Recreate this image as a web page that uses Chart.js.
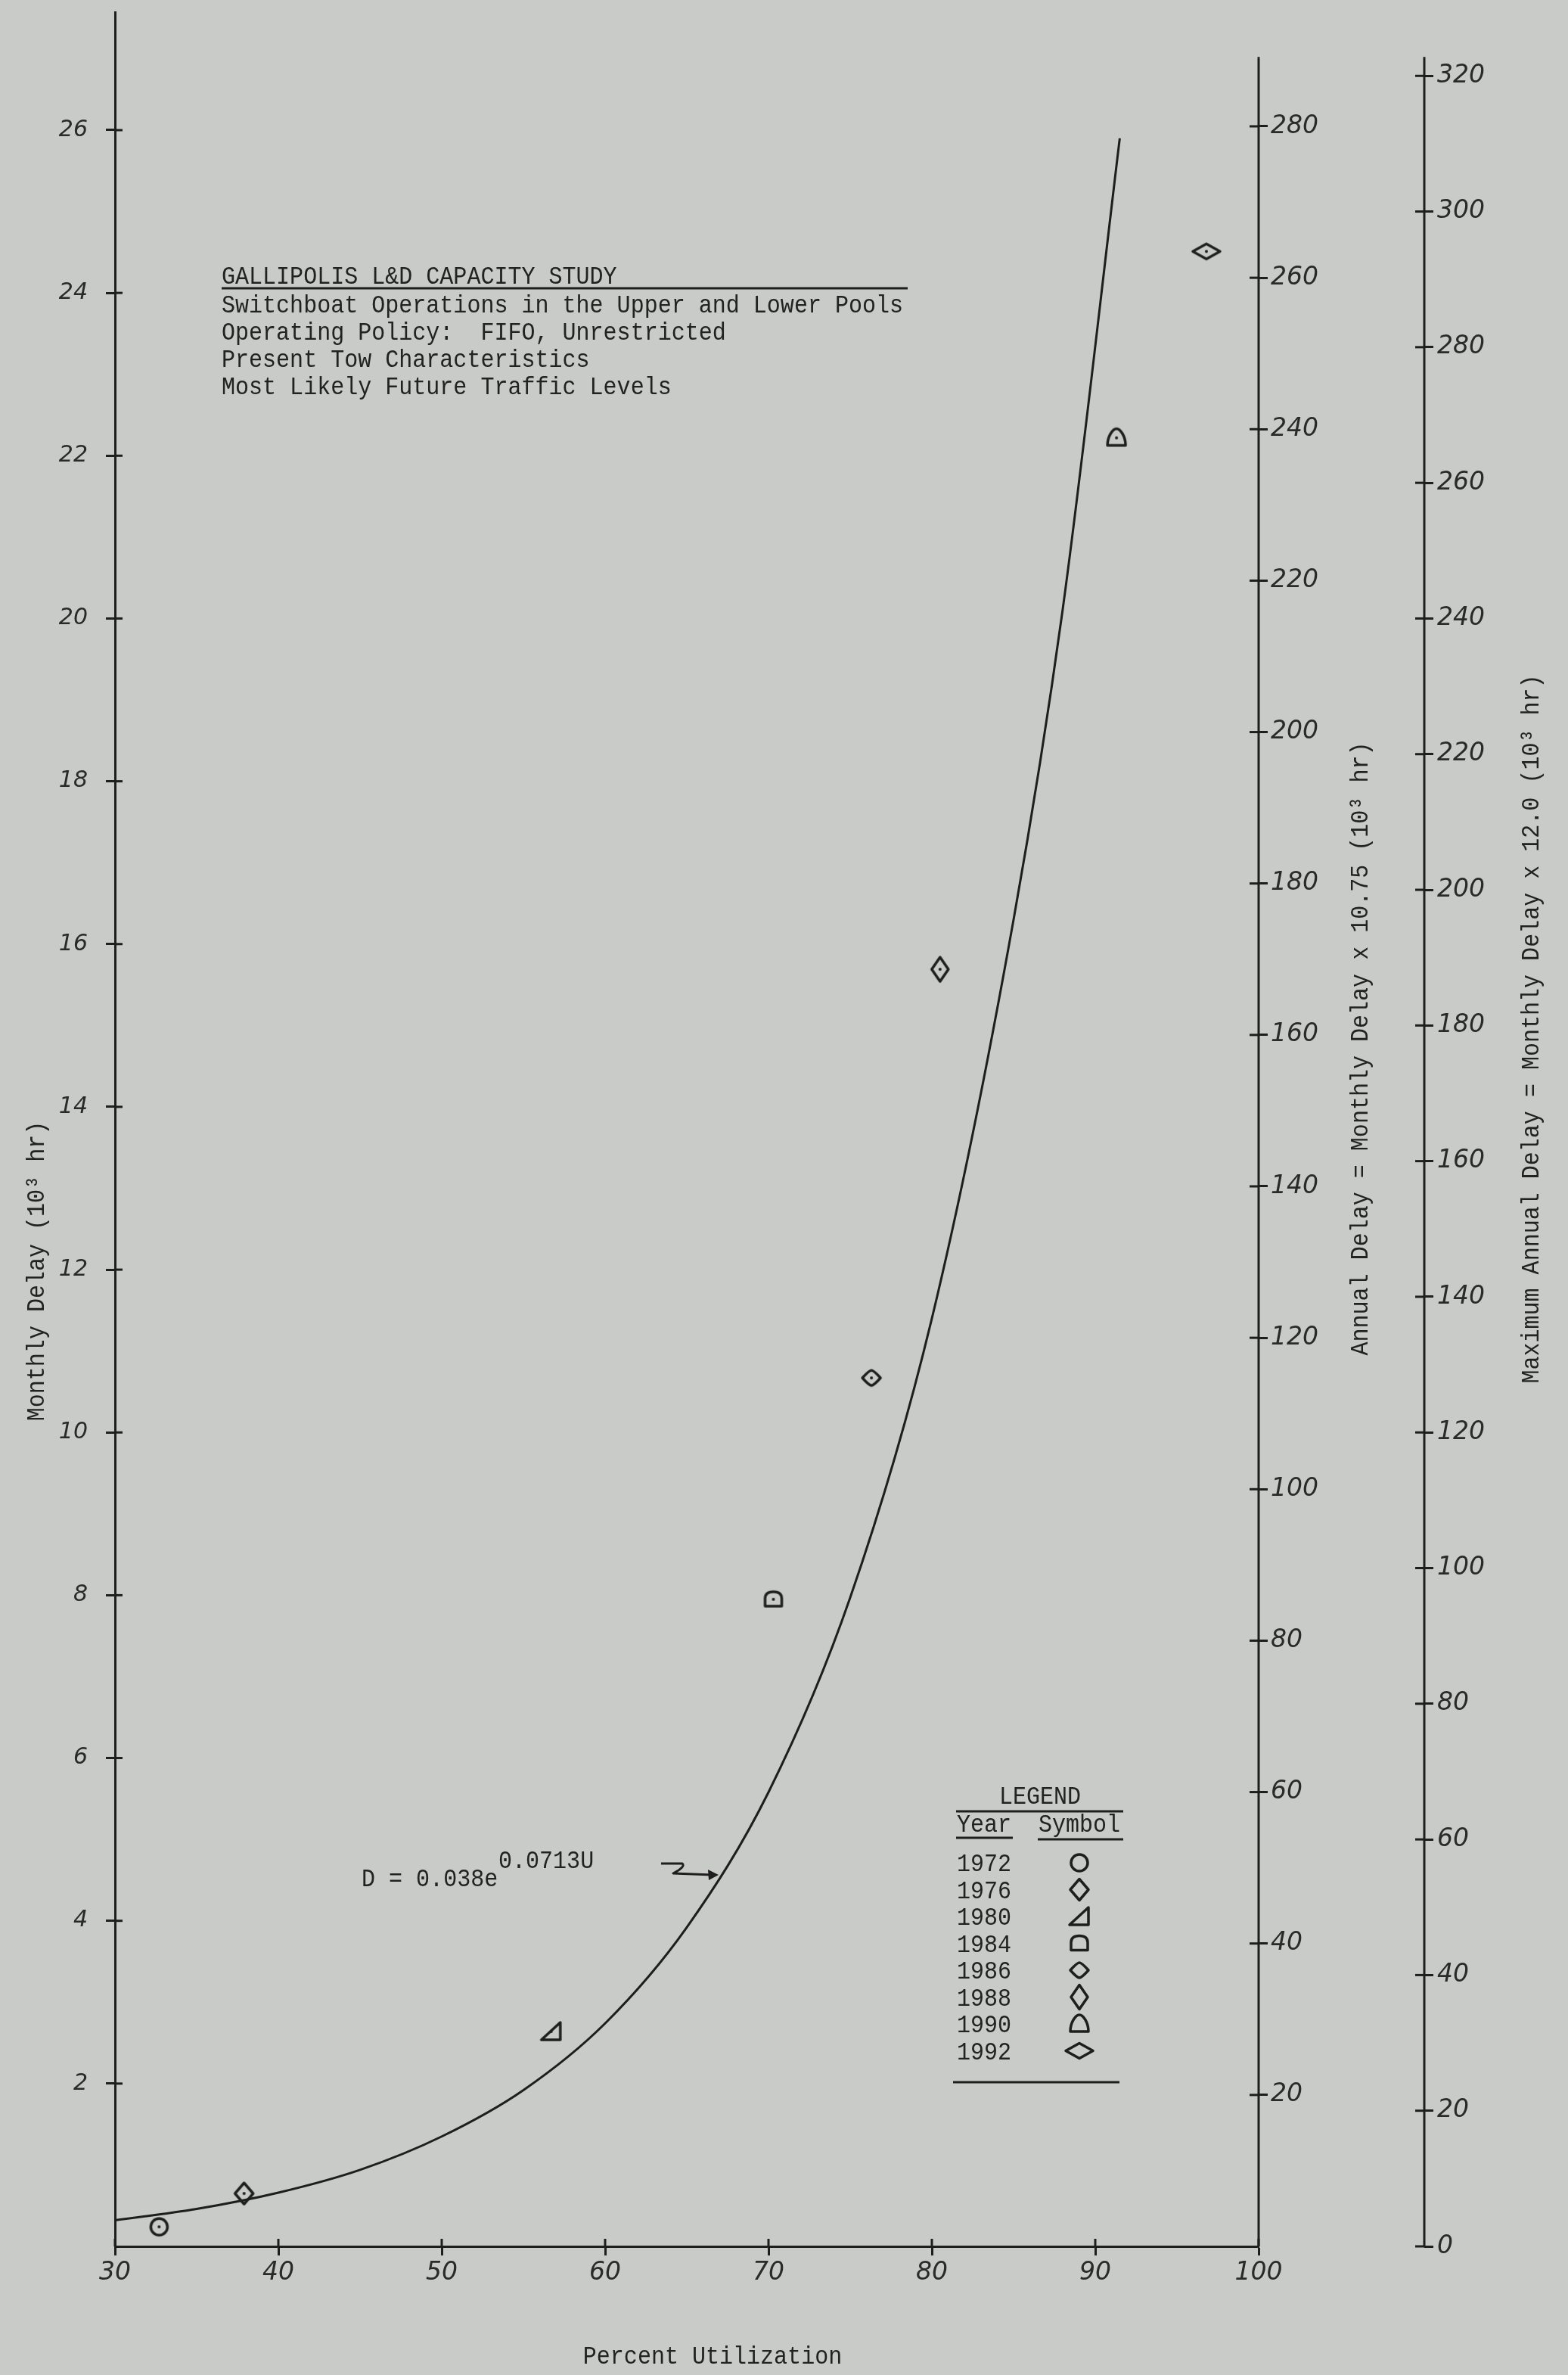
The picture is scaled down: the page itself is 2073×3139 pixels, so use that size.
<!DOCTYPE html>
<html>
<head>
<meta charset="utf-8">
<title>Gallipolis L&D Capacity Study</title>
<script src="https://cdn.jsdelivr.net/npm/chart.js@4.4.1/dist/chart.umd.min.js"></script>
<style>
  html, body { margin: 0; padding: 0; background: #c9cbc9; }
  canvas { display: block; }
</style>
</head>
<body>
<canvas id="myChart" width="2073" height="3139"></canvas>
<script>
// observed points, one per year
var years = ['1972', '1976', '1980', '1984', '1986', '1988', '1990', '1992'];
var utilization = [32.7, 37.9, 56.7, 70.3, 76.3, 80.5, 91.3, 96.8];
var monthlyDelay = [0.24, 0.65, 2.64, 7.95, 10.67, 15.69, 22.22, 24.51];
var symbols = ['circle', 'diamond', 'triangle', 'arch', 'lens', 'tallDiamond', 'bell', 'wideDiamond'];

// fitted curve
var curveU = [30, 35, 40, 45, 50, 55, 60, 65, 70, 75, 80, 85, 88, 91.5];
var curveD = [0.32, 0.46, 0.66, 0.94, 1.35, 1.92, 2.74, 3.92, 5.58, 7.97, 11.4, 16.3, 20.1, 25.9];

// axes
var xTicks = [30, 40, 50, 60, 70, 80, 90, 100];
var monthlyTicks = [2, 4, 6, 8, 10, 12, 14, 16, 18, 20, 22, 24, 26];
var annualTicks = [20, 40, 60, 80, 100, 120, 140, 160, 180, 200, 220, 240, 260, 280];
var maxAnnualTicks = [0, 20, 40, 60, 80, 100, 120, 140, 160, 180, 200, 220, 240, 260, 280, 300, 320];
var annualFactor = 10.75;
var maxAnnualFactor = 12.0;
var monthlyMax = 27.45;
var rightAxisTop = 26.9;

var titleLines = [
    'Switchboat Operations in the Upper and Lower Pools',
    'Operating Policy:  FIFO, Unrestricted',
    'Present Tow Characteristics',
    'Most Likely Future Traffic Levels'
];

var ink = '#1e1e1e';
var paper = '#c9cbc9';
var typeFont = '33px "Liberation Mono"';
var handFont = { family: 'DejaVu Sans', style: 'italic', size: 33, weight: 400 };
var handFontLeft = { family: 'DejaVu Sans', style: 'italic', size: 30, weight: 400 };

function drawMarker(ctx, kind, x, y, dot) {
    ctx.save();
    ctx.translate(x, y);
    ctx.strokeStyle = ink;
    ctx.lineWidth = 3.5;
    ctx.lineJoin = 'round';
    ctx.beginPath();
    if (kind === 'circle') {
        ctx.arc(0, 0, 11, 0, 2 * Math.PI);
    } else if (kind === 'diamond') {
        ctx.moveTo(0, -14); ctx.lineTo(12, 0); ctx.lineTo(0, 14); ctx.lineTo(-12, 0); ctx.closePath();
    } else if (kind === 'triangle') {
        ctx.moveTo(-13, 11); ctx.lineTo(12, 11); ctx.lineTo(12, -12); ctx.closePath();
    } else if (kind === 'arch') {
        ctx.moveTo(-11, 9); ctx.lineTo(11, 9); ctx.lineTo(11, -1);
        ctx.quadraticCurveTo(11, -10, 0, -10);
        ctx.quadraticCurveTo(-11, -10, -11, -1);
        ctx.closePath();
    } else if (kind === 'lens') {
        ctx.moveTo(-12, 0);
        ctx.quadraticCurveTo(-3, -10, 0, -10);
        ctx.quadraticCurveTo(3, -10, 12, 0);
        ctx.quadraticCurveTo(3, 10, 0, 10);
        ctx.quadraticCurveTo(-3, 10, -12, 0);
        ctx.closePath();
    } else if (kind === 'tallDiamond') {
        ctx.moveTo(0, -16); ctx.lineTo(11, 0); ctx.lineTo(0, 16); ctx.lineTo(-11, 0); ctx.closePath();
    } else if (kind === 'bell') {
        ctx.moveTo(-12, 10); ctx.lineTo(12, 10);
        ctx.bezierCurveTo(12, -2, 5, -12, 0, -12);
        ctx.bezierCurveTo(-5, -12, -12, -2, -12, 10);
        ctx.closePath();
    } else if (kind === 'wideDiamond') {
        ctx.moveTo(0, -10); ctx.lineTo(18, 0); ctx.lineTo(0, 10); ctx.lineTo(-18, 0); ctx.closePath();
    }
    ctx.stroke();
    if (dot) {
        ctx.fillStyle = ink;
        ctx.beginPath();
        ctx.arc(0, 0, 2, 0, 2 * Math.PI);
        ctx.fill();
    }
    ctx.restore();
}

function markerCanvas(kind) {
    var c = document.createElement('canvas');
    c.width = 44;
    c.height = 44;
    drawMarker(c.getContext('2d'), kind, 22, 22, true);
    return c;
}

// typewriter text, narrowed a bit like the original
function typeText(ctx, str, x, y, align, angle) {
    ctx.save();
    ctx.translate(x, y);
    if (angle) ctx.rotate(angle);
    ctx.scale(0.91, 1);
    ctx.font = typeFont;
    ctx.fillStyle = '#222';
    ctx.textAlign = align || 'left';
    ctx.textBaseline = 'alphabetic';
    ctx.fillText(str, 0, 0);
    ctx.restore();
}

function line(ctx, x1, y1, x2, y2, w) {
    ctx.beginPath();
    ctx.lineWidth = w || 3;
    ctx.moveTo(x1, y1);
    ctx.lineTo(x2, y2);
    ctx.stroke();
}

function fixedTicks(list) {
    return function (scale) {
        scale.ticks = list.map(function (v) { return { value: v }; });
    };
}

function fixedWidth(w) {
    return function (scale) {
        scale.width = w;
        scale.paddingTop = 0;
        scale.paddingBottom = 0;
    };
}

var paperPlugin = {
    id: 'paper',
    beforeDraw: function (chart) {
        var ctx = chart.ctx;
        ctx.save();
        ctx.fillStyle = paper;
        ctx.fillRect(0, 0, chart.width, chart.height);
        ctx.restore();
    }
};

var notesPlugin = {
    id: 'notes',
    afterDraw: function (chart) {
        var ctx = chart.ctx;
        var sx = chart.scales.x, sy = chart.scales.y, s1 = chart.scales.y1, s2 = chart.scales.y2;
        ctx.save();
        ctx.strokeStyle = ink;
        ctx.lineCap = 'butt';

        // right-hand axis lines
        var yTop = sy.getPixelForValue(rightAxisTop);
        var yBottom = sy.getPixelForValue(0);
        line(ctx, s1.left, yTop, s1.left, yBottom, 3);
        line(ctx, s2.left, yTop, s2.left, yBottom, 3);

        // inner half of the crossing ticks
        xTicks.forEach(function (v) {
            var px = sx.getPixelForValue(v);
            line(ctx, px, sx.top, px, sx.top - 10, 3);
        });
        monthlyTicks.forEach(function (v) {
            var py = sy.getPixelForValue(v);
            line(ctx, sy.right, py, sy.right + 10, py, 3);
        });
        annualTicks.forEach(function (v) {
            var py = s1.getPixelForValue(v);
            line(ctx, s1.left, py, s1.left - 12, py, 3);
        });
        maxAnnualTicks.forEach(function (v) {
            var py = s2.getPixelForValue(v);
            line(ctx, s2.left, py, s2.left - 12, py, 3);
        });

        // title block
        typeText(ctx, 'GALLIPOLIS L&D CAPACITY STUDY', 293, 375);
        line(ctx, 293, 381, 1200, 381, 3);
        titleLines.forEach(function (t, i) {
            typeText(ctx, t, 293, 413 + i * 36);
        });

        // fitted equation and arrow
        typeText(ctx, 'D = 0.038e', 478, 2493);
        typeText(ctx, '0.0713U', 659, 2469);
        ctx.lineWidth = 3;
        ctx.lineJoin = 'round';
        ctx.beginPath();
        ctx.moveTo(874, 2463);
        ctx.lineTo(902, 2463);
        ctx.quadraticCurveTo(907, 2467, 890, 2476);
        ctx.lineTo(942, 2478);
        ctx.stroke();
        ctx.fillStyle = ink;
        ctx.beginPath();
        ctx.moveTo(950, 2478);
        ctx.lineTo(936, 2471);
        ctx.lineTo(937, 2485);
        ctx.closePath();
        ctx.fill();

        // legend table
        typeText(ctx, 'LEGEND', 1375, 2384, 'center');
        line(ctx, 1264, 2394, 1485, 2394, 3);
        typeText(ctx, 'Year', 1265, 2421);
        typeText(ctx, 'Symbol', 1373, 2421);
        line(ctx, 1264, 2429, 1339, 2429, 3);
        line(ctx, 1372, 2431, 1485, 2431, 3);
        years.forEach(function (yr, i) {
            var base = 2473 + i * 35.5;
            typeText(ctx, yr, 1265, base);
            drawMarker(ctx, symbols[i], 1427, base - 11, false);
        });
        line(ctx, 1260, 2752, 1480, 2752, 3);

        // axis titles
        typeText(ctx, 'Monthly Delay (10\u00b3 hr)', 58, 1680, 'center', -Math.PI / 2);
        typeText(ctx, 'Annual Delay = Monthly Delay x 10.75 (10\u00b3 hr)', 1808, 1386, 'center', -Math.PI / 2);
        typeText(ctx, 'Maximum Annual Delay = Monthly Delay x 12.0 (10\u00b3 hr)', 2034, 1360, 'center', -Math.PI / 2);
        typeText(ctx, 'Percent Utilization', 942, 3124, 'center');

        ctx.restore();
    }
};

var datasets = [{
    label: 'D = 0.038e^0.0713U',
    data: curveU.map(function (u, i) { return { x: u, y: curveD[i] }; }),
    showLine: true,
    borderColor: ink,
    borderWidth: 3,
    pointRadius: 0,
    cubicInterpolationMode: 'monotone'
}];

years.forEach(function (yr, i) {
    datasets.push({
        label: yr,
        data: [{ x: utilization[i], y: monthlyDelay[i] }],
        showLine: false,
        pointStyle: markerCanvas(symbols[i]),
        pointRadius: 14
    });
});

var gridOpts = { drawOnChartArea: false, drawTicks: true, tickLength: 12, tickWidth: 3, tickColor: ink };

new Chart(document.getElementById('myChart'), {
    type: 'scatter',
    data: { datasets: datasets },
    options: {
        responsive: false,
        animation: false,
        devicePixelRatio: 1,
        layout: { padding: { top: 16, left: 0, right: 0, bottom: 0 }, autoPadding: false },
        plugins: { legend: { display: false }, tooltip: { enabled: false } },
        scales: {
            x: {
                type: 'linear', position: 'bottom', min: 30, max: 100,
                afterBuildTicks: fixedTicks(xTicks),
                afterFit: function (s) { s.height = 170; s.paddingLeft = 0; s.paddingRight = 0; },
                grid: gridOpts,
                border: { display: true, color: ink, width: 3 },
                ticks: { font: handFont, color: '#2a2a2a', padding: 4 }
            },
            y: {
                type: 'linear', position: 'left', min: 0, max: monthlyMax,
                afterBuildTicks: fixedTicks(monthlyTicks),
                afterFit: fixedWidth(152),
                grid: gridOpts,
                border: { display: true, color: ink, width: 3 },
                ticks: { font: handFontLeft, color: '#2a2a2a', padding: 24 }
            },
            y1: {
                type: 'linear', position: 'right', weight: 1, min: 0, max: monthlyMax * annualFactor,
                afterBuildTicks: fixedTicks(annualTicks),
                afterFit: fixedWidth(219),
                grid: gridOpts,
                border: { display: false },
                ticks: { font: handFont, color: '#2a2a2a', padding: 4 }
            },
            y2: {
                type: 'linear', position: 'right', weight: 2, min: 0, max: monthlyMax * maxAnnualFactor,
                afterBuildTicks: fixedTicks(maxAnnualTicks),
                afterFit: fixedWidth(190),
                grid: gridOpts,
                border: { display: false },
                ticks: { font: handFont, color: '#2a2a2a', padding: 5 }
            }
        }
    },
    plugins: [paperPlugin, notesPlugin]
});
</script>
</body>
</html>
